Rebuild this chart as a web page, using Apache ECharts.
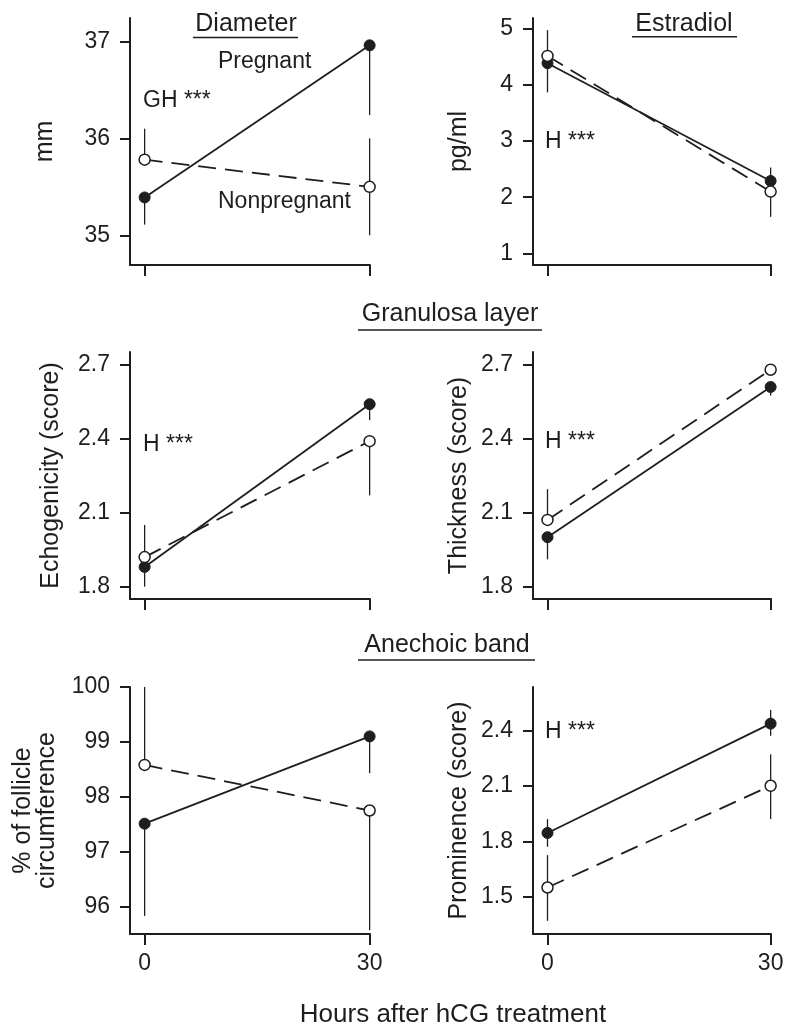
<!DOCTYPE html>
<html>
<head>
<meta charset="utf-8">
<script src="https://cdn.jsdelivr.net/npm/echarts@6/dist/echarts.min.js"></script>
<style>
  html, body { margin: 0; padding: 0; background: #fff; }
  #chart { width: 792px; height: 1028px; }
</style>
</head>
<body>
<div id="chart"></div>
<script>
// ---------- DATA ----------
const hours = [0, 30];
const hourTicks = [0, 30];

// Diameter (mm)
const diamPreg = [35.39, 36.96];
const diamNon = [35.78, 35.50];
const diamPregLo = [35.11, 36.24], diamPregHi = [null, null];
const diamNonLo = [null, 35.00], diamNonHi = [36.10, 36.00];
const diamTicks = [35, 36, 37];

// Estradiol (pg/ml)
const estPreg = [4.39, 2.29];
const estNon = [4.52, 2.10];
const estPregLo = [3.87, null], estPregHi = [null, 2.53];
const estNonLo = [null, 1.65], estNonHi = [4.98, null];
const estTicks = [1, 2, 3, 4, 5];

// Echogenicity (score)
const echoPreg = [1.88, 2.54];
const echoNon = [1.92, 2.39];
const echoPregLo = [1.80, 2.475], echoPregHi = [null, null];
const echoNonLo = [null, 2.17], echoNonHi = [2.05, null];
const echoTicks = [1.8, 2.1, 2.4, 2.7];

// Thickness (score)
const thickPreg = [2.00, 2.61];
const thickNon = [2.07, 2.68];
const thickPregLo = [1.91, 2.575], thickPregHi = [null, null];
const thickNonLo = [null, null], thickNonHi = [2.195, null];
const thickTicks = [1.8, 2.1, 2.4, 2.7];

// % of follicle circumference
const follPreg = [97.51, 99.10];
const follNon = [98.58, 97.75];
const follPregLo = [95.83, 98.43], follPregHi = [null, null];
const follNonLo = [null, 95.57], follNonHi = [100.0, null];
const follTicks = [96, 97, 98, 99, 100];

// Prominence (score)
const promPreg = [1.845, 2.436];
const promNon = [1.55, 2.10];
const promPregLo = [1.77, 2.37], promPregHi = [1.92, 2.51];
const promNonLo = [1.37, 1.92], promNonHi = [1.725, 2.27];
const promTicks = [1.5, 1.8, 2.1, 2.4];

// ---------- CHART ----------
const FONT = "'Liberation Sans', Arial, Helvetica, sans-serif";
const INK = '#1e1e1e';

const panels = [
  { grid: {left: 130, top: 18, width: 240, height: 247}, yMin: 34.693, yMax: 37.242, ticks: diamTicks,
    name: 'mm', gap: 73, preg: diamPreg, non: diamNon, pLo: diamPregLo, pHi: diamPregHi, nLo: diamNonLo, nHi: diamNonHi, xLabels: false },
  { grid: {left: 533, top: 18, width: 238, height: 247}, yMin: 0.791, yMax: 5.196, ticks: estTicks,
    name: 'pg/ml', gap: 62, preg: estPreg, non: estNon, pLo: estPregLo, pHi: estPregHi, nLo: estNonLo, nHi: estNonHi, xLabels: false },
  { grid: {left: 130, top: 352, width: 240, height: 247}, yMin: 1.750, yMax: 2.7516, ticks: echoTicks,
    name: 'Echogenicity (score)', gap: 67, preg: echoPreg, non: echoNon, pLo: echoPregLo, pHi: echoPregHi, nLo: echoNonLo, nHi: echoNonHi, xLabels: false },
  { grid: {left: 533, top: 352, width: 238, height: 247}, yMin: 1.749, yMax: 2.752, ticks: thickTicks,
    name: 'Thickness (score)', gap: 62, preg: thickPreg, non: thickNon, pLo: thickPregLo, pHi: thickPregHi, nLo: thickNonLo, nHi: thickNonHi, xLabels: false },
  { grid: {left: 130, top: 687, width: 240, height: 247}, yMin: 95.50, yMax: 100.0, ticks: follTicks,
    name: '% of follicle\ncircumference', gap: 71, preg: follPreg, non: follNon, pLo: follPregLo, pHi: follPregHi, nLo: follNonLo, nHi: follNonHi, xLabels: true },
  { grid: {left: 533, top: 687, width: 238, height: 247}, yMin: 1.2986, yMax: 2.634, ticks: promTicks,
    name: 'Prominence (score)', gap: 62, preg: promPreg, non: promNon, pLo: promPregLo, pHi: promPregHi, nLo: promNonLo, nHi: promNonHi, xLabels: true }
];

const grids = [], xAxes = [], yAxes = [], series = [];

panels.forEach((p, i) => {
  grids.push(Object.assign({ containLabel: false }, p.grid));
  xAxes.push({
    type: 'value', gridIndex: i, min: -1.95, max: 30.05,
    axisLine: { show: true, onZero: false, lineStyle: { color: INK, width: 2 } },
    axisTick: { show: true, customValues: hourTicks, length: 11, lineStyle: { color: INK, width: 2 } },
    axisLabel: { show: p.xLabels, customValues: hourTicks, margin: 18, color: INK, fontSize: 23, fontFamily: FONT },
    splitLine: { show: false }
  });
  yAxes.push({
    type: 'value', gridIndex: i, min: p.yMin, max: p.yMax,
    name: p.name, nameLocation: 'middle', nameGap: p.gap, nameRotate: 90,
    nameTextStyle: { color: INK, fontSize: 25, fontFamily: FONT, lineHeight: 24 },
    axisLine: { show: true, onZero: false, lineStyle: { color: INK, width: 2 } },
    axisTick: { show: true, customValues: p.ticks, length: 10, lineStyle: { color: INK, width: 2 } },
    axisLabel: { show: true, customValues: p.ticks, margin: 20, color: INK, fontSize: 23, fontFamily: FONT,
                 formatter: v => String(Math.round(v * 10) / 10) },
    splitLine: { show: false }
  });

  // error bars
  const bars = [];
  hours.forEach((h, k) => {
    if (p.pLo[k] != null) bars.push([h, p.preg[k], p.pLo[k]]);
    if (p.pHi[k] != null) bars.push([h, p.preg[k], p.pHi[k]]);
    if (p.nLo[k] != null) bars.push([h, p.non[k], p.nLo[k]]);
    if (p.nHi[k] != null) bars.push([h, p.non[k], p.nHi[k]]);
  });
  series.push({
    type: 'custom', xAxisIndex: i, yAxisIndex: i, z: 1, clip: false,
    data: bars,
    encode: { x: 0, y: [1, 2] },
    renderItem: (params, api) => {
      const a = api.coord([api.value(0), api.value(1)]);
      const b = api.coord([api.value(0), api.value(2)]);
      return { type: 'line', shape: { x1: a[0], y1: a[1], x2: b[0], y2: b[1] },
               style: { stroke: INK, lineWidth: 1.3 } };
    }
  });
  series.push({
    name: 'Pregnant', type: 'line', xAxisIndex: i, yAxisIndex: i, z: 2,
    data: hours.map((h, k) => [h, p.preg[k]]),
    symbol: 'circle', symbolSize: 11,
    lineStyle: { color: INK, width: 1.8 },
    itemStyle: { color: INK, borderColor: INK, borderWidth: 1 }
  });
  series.push({
    name: 'Nonpregnant', type: 'line', xAxisIndex: i, yAxisIndex: i, z: 3,
    data: hours.map((h, k) => [h, p.non[k]]),
    symbol: 'circle', symbolSize: 11,
    lineStyle: { color: INK, width: 1.8, type: [18, 9] },
    itemStyle: { color: '#ffffff', borderColor: INK, borderWidth: 1.5 }
  });
});

function txt(x, y, s, size, align) {
  return { type: 'text', x: x, y: y, z: 10,
           style: { text: s, fill: INK, fontSize: size, fontFamily: FONT,
                    align: align || 'left', verticalAlign: 'middle' } };
}
function uline(x1, x2, y) {
  return { type: 'line', z: 10, shape: { x1: x1, y1: y, x2: x2, y2: y },
           style: { stroke: INK, lineWidth: 1.5 } };
}

const graphics = [
  txt(246, 24, 'Diameter', 25, 'center'), uline(193, 298, 37.5),
  txt(684, 24, 'Estradiol', 25, 'center'), uline(632, 737, 36.7),
  txt(450, 314, 'Granulosa layer', 25, 'center'), uline(358, 542, 330),
  txt(447, 645, 'Anechoic band', 25, 'center'), uline(358, 535, 660),
  txt(218, 62, 'Pregnant', 23), txt(218, 202, 'Nonpregnant', 23),
  txt(143, 101, 'GH ***', 23),
  txt(545, 142, 'H ***', 23),
  txt(143, 445, 'H ***', 23),
  txt(545, 442, 'H ***', 23),
  txt(545, 732, 'H ***', 23),
  txt(453, 1015, 'Hours after hCG treatment', 26, 'center')
];

const chart = echarts.init(document.getElementById('chart'), null, { renderer: 'canvas' });
chart.setOption({
  animation: false,
  backgroundColor: '#ffffff',
  grid: grids, xAxis: xAxes, yAxis: yAxes, series: series,
  graphic: graphics
});
</script>
</body>
</html>
